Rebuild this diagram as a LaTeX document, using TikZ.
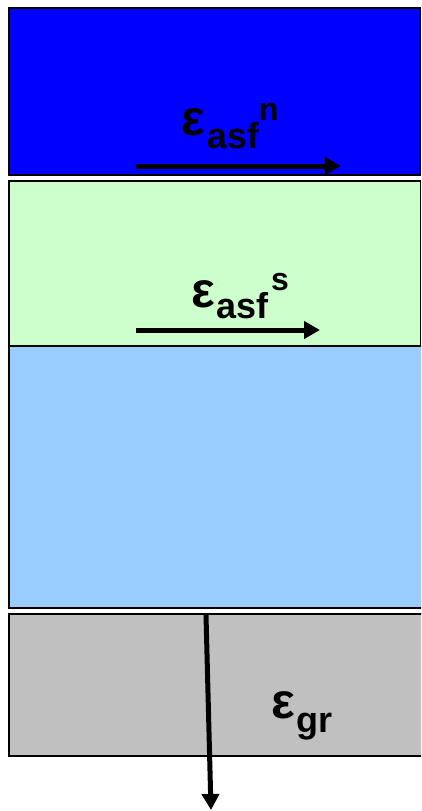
\documentclass[tikz,border=0pt]{standalone}
\usepackage{fontspec}
\setmainfont{Liberation Sans}
\usetikzlibrary{arrows.meta}
\definecolor{layerblue}{HTML}{0000FF}
\definecolor{layergreen}{HTML}{CCFFCC}
\definecolor{layersky}{HTML}{99CCFF}
\definecolor{layergray}{HTML}{C0C0C0}
\begin{document}
\begin{tikzpicture}[x=1pt,y=-1pt,
  layer/.style={draw=black, line width=1.5pt},
  flow/.style={line width=5pt, -{Triangle[length=16pt,width=17pt]}},
  eps/.style={anchor=base west, inner sep=0pt, font=\fontsize{50}{50}\selectfont\bfseries},
  subtxt/.style={anchor=base west, inner sep=0pt, font=\fontsize{36}{36}\selectfont\bfseries},
  suptxt/.style={anchor=base west, inner sep=0pt, font=\fontsize{32}{32}\selectfont\bfseries}]
\useasboundingbox (0,0) rectangle (421,811);
\clip (0,0) rectangle (421,811);
% layers
\draw[layer, fill=layerblue] (9,8) rectangle (420.5,175);
\draw[layer, fill=layergreen] (9,181) rectangle (420.5,346);
\draw[layer, fill=layersky] (9,346) rectangle (424,608);
\draw[layer, fill=layergray] (9,614) rectangle (424,756);
% arrows
\coordinate (n0) at (136,166);
\coordinate (n1) at (341,166);
\draw[flow] (n0) -- (n1);
\coordinate (s0) at (136,330);
\coordinate (s1) at (320,330);
\draw[flow] (s0) -- (s1);
\coordinate (g0) at (206,615);
\coordinate (g1) at (211,810);
\draw[flow] (g0) -- (g1);
% labels
\node[eps] (en) at (181,135) {ε};
\node[subtxt] (en-sub) at (207,148) {asf};
\node[suptxt] (en-sup) at (259,120) {n};
\node[eps] (es) at (191,307) {ε};
\node[subtxt] (es-sub) at (216,318) {asf};
\node[suptxt] (es-sup) at (271,290) {s};
\node[eps] (eg) at (271,718) {ε};
\node[subtxt] (eg-sub) at (296,732) {gr};
\end{tikzpicture}
\end{document}
